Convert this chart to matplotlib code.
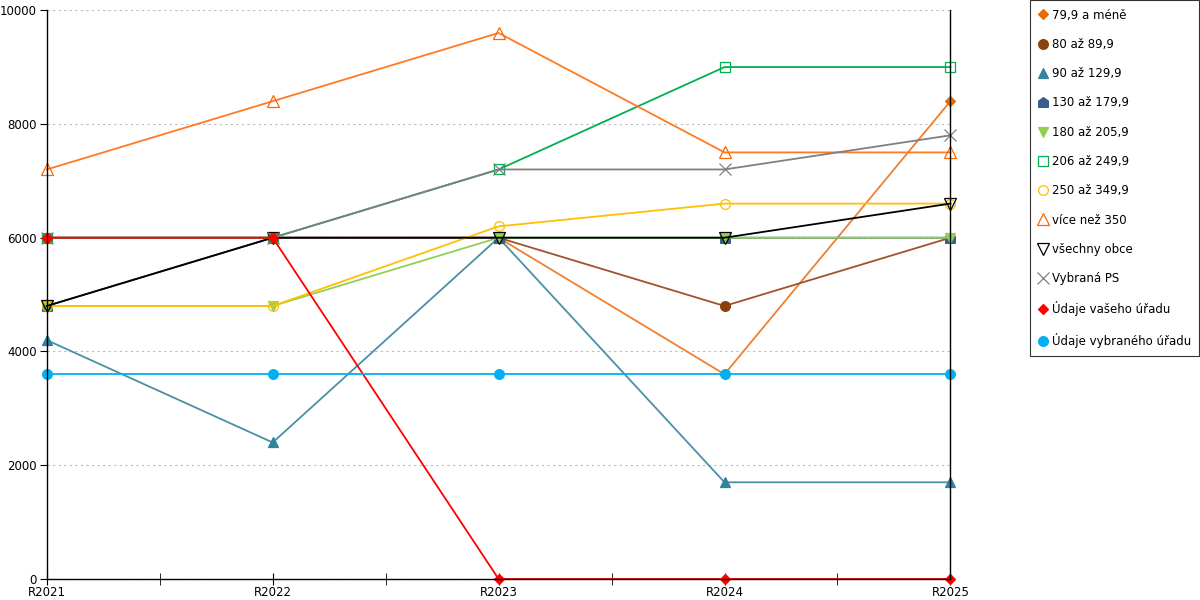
import matplotlib.pyplot as plt
from matplotlib.path import Path
import numpy as np

years = ["R2021", "R2022", "R2023", "R2024", "R2025"]

s_79 = [6000, 6000, 6000, 3600, 8400]
s_80 = [6000, 6000, 6000, 4800, 6000]
s_90 = [4200, 2400, 6000, 1700, 1700]
s_130 = [4800, 6000, 6000, 6000, 6000]
s_180 = [4800, 4800, 6000, 6000, 6000]
s_206 = [6000, 6000, 7200, 9000, 9000]
s_250 = [4800, 4800, 6200, 6600, 6600]
s_350 = [7200, 8400, 9600, 7500, 7500]
s_all = [4800, 6000, 6000, 6000, 6600]
s_ps = [6000, 6000, 7200, 7200, 7800]
s_yours = [6000, 6000, 0, 0, 0]
s_sel = [3600, 3600, 3600, 3600, 3600]

labels = ["79,9 a méně", "80 až 89,9", "90 až 129,9", "130 až 179,9",
          "180 až 205,9", "206 až 249,9", "250 až 349,9", "více než 350",
          "všechny obce", "Vybraná PS", "Údaje vašeho úřadu",
          "Údaje vybraného úřadu"]

house = Path([(-1, -1), (1, -1), (1, 0.3), (0, 1), (-1, 0.3), (-1, -1)],
             [Path.MOVETO, Path.LINETO, Path.LINETO, Path.LINETO,
              Path.LINETO, Path.CLOSEPOLY])

# (values, line colour, marker colour, marker, filled, size)
styles = [
    (s_79, "#EE8033", "#E36C09", "D", True, 5),
    (s_80, "#A0522D", "#8B4010", "o", True, 7),
    (s_90, "#4A90A4", "#31849B", "^", True, 7),
    (s_130, "#385D8A", "#385D8A", house, True, 7),
    (s_180, "#92D050", "#92D050", "v", True, 7),
    (s_206, "#00B050", "#00B050", "s", False, 7),
    (s_250, "#FFC000", "#FFC000", "o", False, 7),
    (s_350, "#FF7A22", "#FF6600", "^", False, 8),
    (s_all, "#000000", "#000000", "v", False, 8),
    (s_ps, "#808080", "#808080", "x", False, 8),
    (s_yours, "#FF0000", "#FF0000", "D", True, 5),
    (s_sel, "#00B0F0", "#00B0F0", "o", True, 7),
]

plt.rcParams["font.family"] = ["DejaVu Sans"]
fig = plt.figure(figsize=(12, 6), dpi=100)
ax = fig.add_axes([0.039, 0.035, 0.753, 0.948])

x = np.arange(len(years))
handles = []
for (vals, lc, mc, mk, filled, ms), lab in zip(styles, labels):
    h, = ax.plot(x, vals, color=lc, lw=1.3, marker=mk, markersize=ms,
                 markeredgecolor=mc,
                 markerfacecolor=mc if filled else "none",
                 markeredgewidth=0.9, label=lab, clip_on=False)
    handles.append(h)

ax.set_xlim(0, len(years) - 1)
ax.set_ylim(0, 10000)
ax.set_yticks(np.arange(0, 10001, 2000))
ax.set_xticks(x)
ax.set_xticklabels(years)
ax.set_xticks(x[:-1] + 0.5, minor=True)
ax.tick_params(axis="x", which="both", direction="inout", length=8,
               labelsize=8.5, pad=1)
ax.tick_params(axis="y", direction="out", length=5, labelsize=8.5, pad=2)
ax.yaxis.grid(True, linestyle=(0, (2, 3)), color="#BBBBBB", lw=0.8)
ax.spines["top"].set_visible(False)
for s in ("left", "right", "bottom"):
    ax.spines[s].set_linewidth(1.0)

leg = fig.legend(handles=handles, loc="upper right",
                 bbox_to_anchor=(0.9992, 0.9995), fontsize=8.5, frameon=True,
                 fancybox=False, edgecolor="black", labelspacing=1.38,
                 handlelength=0.8, handletextpad=0.35, borderpad=0.7,
                 borderaxespad=0)
for h in leg.legend_handles:
    h.set_linestyle("none")
leg.get_frame().set_linewidth(0.8)

fig.savefig("out.png", dpi=100)
